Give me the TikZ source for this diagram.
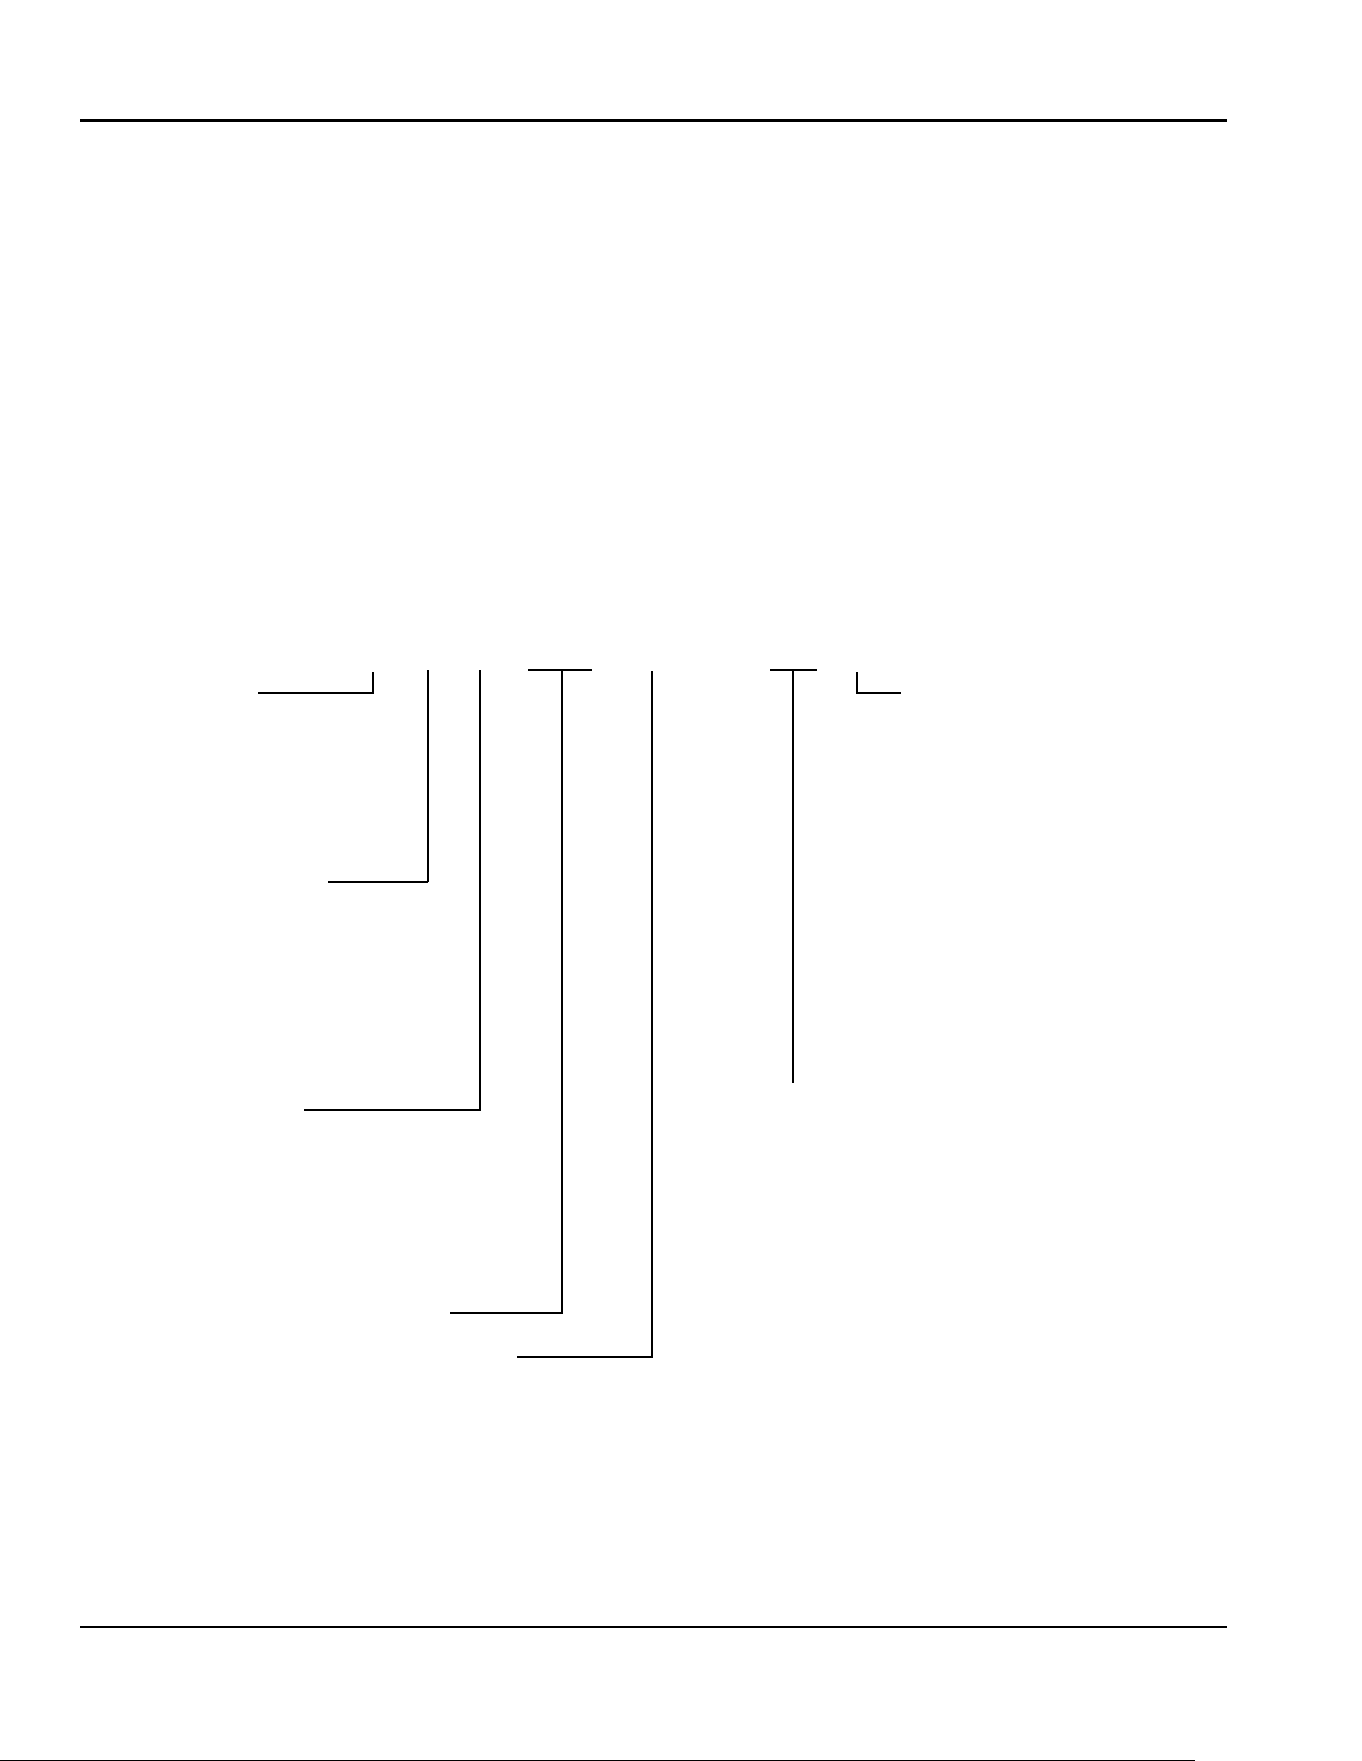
\documentclass[tikz,border=0pt]{standalone}
\begin{document}
\begin{tikzpicture}[x=1pt,y=-1pt,
  rule/.style={line width=3pt},
  midrule/.style={line width=2.5pt},
  bar/.style={line width=2.6pt},
  lead/.style={line width=1.3pt},
  hair/.style={line width=1pt}]
\useasboundingbox[fill=white] (0,0) rectangle (1361,1761);
% page rules
\coordinate (tl) at (80,120);   \coordinate (tr) at (1227,120);
\coordinate (bl) at (80,1627);  \coordinate (br) at (1227,1627);
\coordinate (fl) at (0,1760);   \coordinate (fr) at (1195,1760);
\draw[rule] (tl) -- (tr);
\draw[midrule] (bl) -- (br);
\draw[hair] (fl) -- (fr);
% leader 1 (left small bracket)
\coordinate (a1) at (373,672); \coordinate (a2) at (373,693); \coordinate (a3) at (258,693);
\draw[lead] (a1) -- (a2) -- (a3);
% leader 2
\coordinate (b1) at (428,670); \coordinate (b2) at (428,882); \coordinate (b3) at (328,882);
\draw[lead] (b1) -- (b2);
\draw[line width=2pt] (b2) -- (b3);
% leader 3
\coordinate (c1) at (480,670); \coordinate (c2) at (480,1110); \coordinate (c3) at (304,1110);
\draw[lead] (c1) -- (c2) -- (c3);
% leader 4 with bar
\coordinate (d0l) at (528,670); \coordinate (d0r) at (592,670);
\coordinate (d1) at (562,670); \coordinate (d2) at (562,1313); \coordinate (d3) at (450,1313);
\draw[bar] (d0l) -- (d0r);
\draw[lead] (d1) -- (d2) -- (d3);
% leader 5
\coordinate (e1) at (652,671); \coordinate (e2) at (652,1357); \coordinate (e3) at (517,1357);
\draw[lead] (e1) -- (e2) -- (e3);
% leader 6 with bar
\coordinate (f0l) at (770,670); \coordinate (f0r) at (817,670);
\coordinate (f1) at (793,670); \coordinate (f2) at (793,1083);
\draw[bar] (f0l) -- (f0r);
\draw[lead] (f1) -- (f2);
% leader 7 (right small bracket)
\coordinate (g1) at (857,672); \coordinate (g2) at (857,693); \coordinate (g3) at (901,693);
\draw[lead] (g1) -- (g2) -- (g3);
\end{tikzpicture}
\end{document}
